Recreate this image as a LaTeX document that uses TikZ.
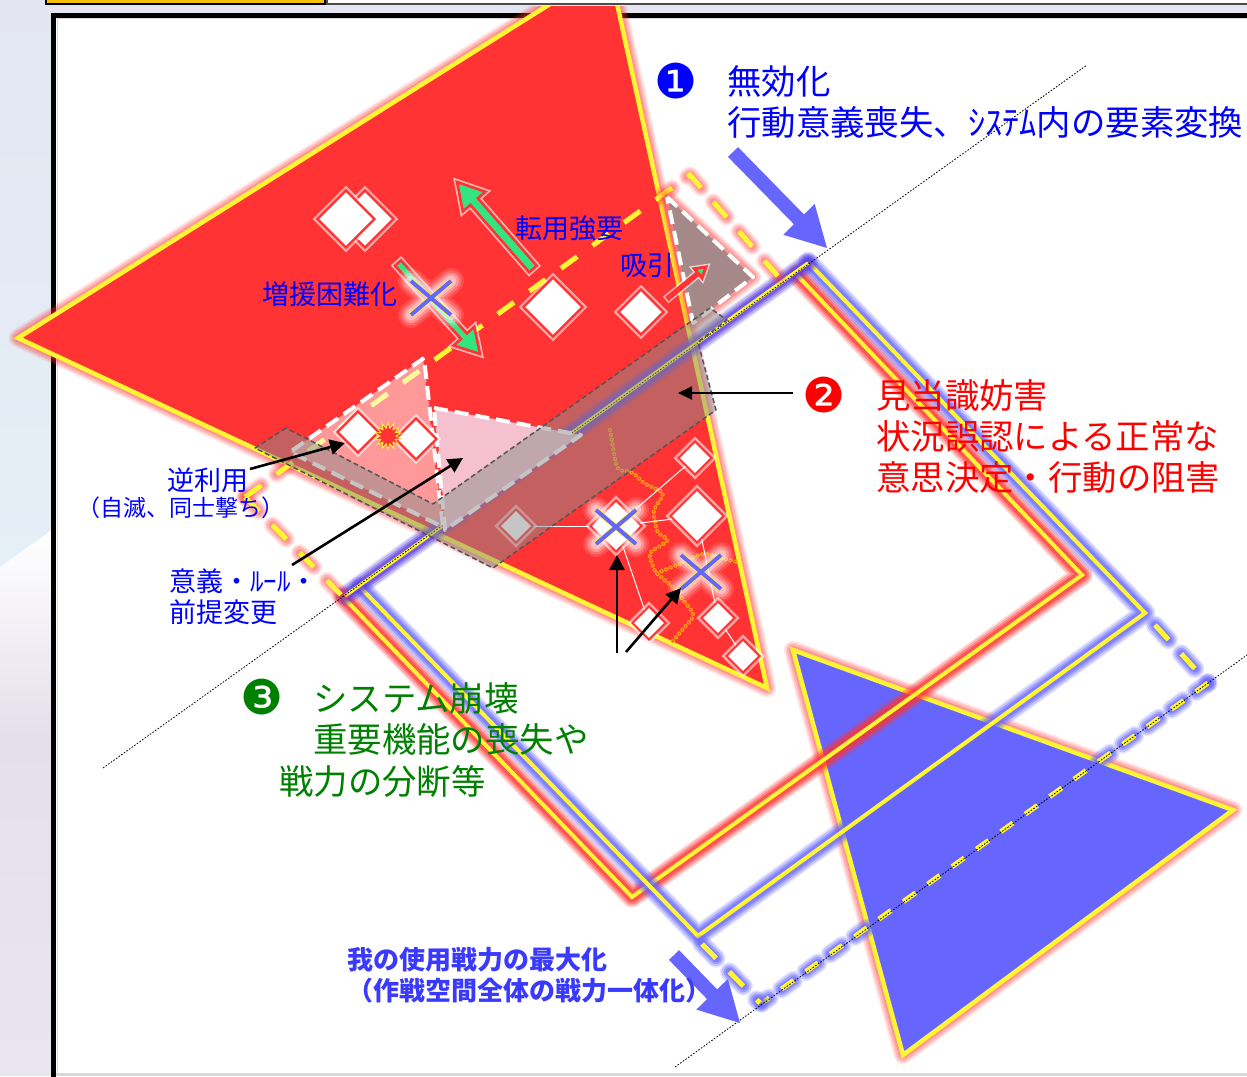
\documentclass[tikz,border=0pt]{standalone}
\usepackage{fontspec}
\setmainfont{Noto Sans CJK JP}
\newfontfamily\dvfont{DejaVu Sans}
\usetikzlibrary{shapes.geometric,arrows.meta,calc}
\definecolor{bgblue}{HTML}{E3E6F1}
\definecolor{bgcyan}{HTML}{E5EFF6}
\definecolor{bglil}{HTML}{E5DFEC}
\definecolor{bglil2}{HTML}{E9E5F0}
\definecolor{gold}{HTML}{F5C000}
\definecolor{redfill}{HTML}{FF3333}
\definecolor{blufill}{HTML}{6666FF}
\definecolor{purp}{HTML}{5A3CE0}
\definecolor{yel}{HTML}{FFF533}
\definecolor{grn}{HTML}{33E580}
\definecolor{zonegray}{HTML}{8D8D8D}
\definecolor{zoneline}{HTML}{555555}
\definecolor{orangechain}{HTML}{FFA410}
\definecolor{labblue}{HTML}{0000FF}
\definecolor{boldblue}{HTML}{3A3AFF}
\definecolor{labgreen}{HTML}{008000}
\definecolor{pinkfill}{HTML}{F5C0CF}
\definecolor{mauve}{HTML}{A58888}
\newcommand{\glowsoft}[3]{%
  \foreach \gw/\gop in {14/.10,11/.14,8/.18,4/.24}{%
    \draw[#1,line width=#2pt+\gw pt,opacity=\gop,line join=round,line cap=round] #3;}}
\newcommand{\glowhard}[3]{%
  \foreach \gw/\gop in {18/.16,15/.26,11/.4,7/.55}{%
    \draw[#1,line width=#2pt+\gw pt,opacity=\gop,line join=round,line cap=round] #3;}}
\newcommand{\fatarrow}[8]{% style, x1,y1,x2,y2, half shaft, half head, head length
  \pgfmathsetmacro{\fa}{atan2(#3-#5,#4-#2)}%
  \pgfmathsetmacro{\fl}{veclen(#4-#2,#5-#3)}%
  \begin{scope}[shift={(#2,#3)},rotate=\fa]
    \path[#1] (0,-#6) -- (\fl-#8,-#6) -- (\fl-#8,-#7) -- (\fl,0) -- (\fl-#8,#7) -- (\fl-#8,#6) -- (0,#6) -- cycle;
  \end{scope}}
\newcommand{\crossmark}[2]{%
  \begin{scope}[shift={(#1,#2)}]
    \foreach \w/\o in {26/.12,21/.18,16/.28,11/.4}{\draw[white,opacity=\o,line width=\w pt,line cap=round] (-20,-17) -- (20,17) (-20,17) -- (20,-17);}
    \draw[yel,line width=5.4pt] (-20,-17) -- (20,17) (-20,17) -- (20,-17);
    \draw[blufill,line width=4pt] (-20,-17) -- (20,17) (-20,17) -- (20,-17);
  \end{scope}}
\tikzset{
  x=1pt,y=-1pt,
  edgeline/.style={yel,line width=4.5pt,line join=miter},
  dashyel/.style={yel,line width=5pt,dash pattern=on 20pt off 19pt},
  dashyelb/.style={yel,line width=5pt,dash pattern=on 15pt off 15pt},
  dotline/.style={black,line width=.8pt,dash pattern=on 1.6pt off 1.6pt},
  whitedash/.style={white,line width=4pt,dash pattern=on 14pt off 7pt,line join=round},
  gem/.style={diamond,aspect=1,inner sep=0pt,draw=redfill,line width=2.4pt,fill=white,
    preaction={draw=white,line width=7pt,opacity=.55}},
  gemthin/.style={gem,line width=2pt},
  wire/.style={white,line width=1pt},
  chain/.style={orangechain,line width=4.2pt,dash pattern=on .1pt off 4.8pt,line cap=round,line join=round,rounded corners=5pt},
  chaincore/.style={chain,redfill,line width=1.7pt},
  blk/.style={black,line width=2.6pt,-{Triangle[length=15pt,width=15pt]}},
  blkthin/.style={black,line width=2pt,-{Triangle[length=14pt,width=13pt]}},
  bigtxt/.style={anchor=west,align=left,inner sep=0pt,font=\fontsize{34.4}{41}\selectfont},
  midtxt/.style={anchor=west,align=left,inner sep=0pt,text=labblue,font=\fontsize{27}{31}\selectfont},
  smalltxt/.style={anchor=center,inner sep=0pt,text=labblue,font=\fontsize{23}{27}\selectfont},
  boldtxt/.style={anchor=west,inner sep=0pt,text=boldblue,font=\fontsize{26}{31}\selectfont\bfseries},
  numtxt/.style={anchor=center,inner sep=0pt,font=\dvfont\fontsize{48}{48}\selectfont},
  zone/.style={fill=zonegray,fill opacity=.5,draw=zoneline,line width=1.5pt,dash pattern=on 5pt off 3pt,line join=round},
  greenarrow/.style={fill=grn,draw=redfill,line width=2.6pt,line join=miter,
    preaction={draw=white,line width=6pt,opacity=.65}},
  blueflat/.style={fill=blufill},
}
\begin{document}
\begin{tikzpicture}
\useasboundingbox (0,0) rectangle (1247,1076);
\clip (0,0) rectangle (1247,1076);
% page background
\fill[bgblue] (0,0) rectangle (1247,20);
\begin{scope}
  \clip (0,0) -- (52,0) -- (52,530) -- (0,567) -- cycle;
  \shade[top color=bgblue,bottom color=bgcyan] (0,0) rectangle (52,567);
\end{scope}
\begin{scope}
  \clip (0,567) -- (52,530) -- (52,1076) -- (0,1076) -- cycle;
  \shade[top color=white,bottom color=bglil] (0,530) rectangle (52,735);
  \shade[top color=bglil,bottom color=bglil2] (0,735) rectangle (52,1076);
\end{scope}
% frame
\fill[white] (53,16) rectangle (1260,1090);
\draw[black!15,line width=1pt] (57.5,1076) -- (57.5,18.5) -- (1247,18.5);
\draw[black,line width=4.5pt] (53.5,15.5) rectangle (1270,1090);
\fill[black!15] (56,1073) rectangle (1247,1076);
% red triangle
\glowsoft{redfill}{4.5}{(18,338) -- (609,-33) -- (767,688) -- cycle}
\fill[redfill] (18,338) -- (609,-33) -- (767,688) -- cycle;
\draw[edgeline] (18,338) -- (609,-33) -- (767,688) -- cycle;
% blue triangle
\glowsoft{redfill}{4.5}{(793,650) -- (1233,810) -- (903,1055) -- cycle}
\fill[blufill] (793,650) -- (1233,810) -- (903,1055) -- cycle;
\draw[edgeline] (793,650) -- (1233,810) -- (903,1055) -- cycle;
% red rectangle
\glowhard{redfill}{3.5}{(797,275) -- (1082,575) -- (632,897) -- (343,597)}
\draw[edgeline,line width=4pt] (797,275) -- (1082,575) -- (632,897) -- (343,597);
% blue rectangle
\glowhard{blufill}{3}{(808,262) -- (1145,613) -- (698,936) -- (360,587)}
\draw[edgeline,line width=4pt] (808,262) -- (1145,613) -- (698,936) -- (360,587);
% common upper edge
\glowhard{purp}{2.5}{(345,596) -- (808,263)}
\draw[edgeline,line width=3.5pt] (345,596) -- (808,263);
% dashed continuation (blue glow)
\glowhard{blufill}{1}{[dash pattern=on 20pt off 19pt] (1155,625) -- (1208,683)}
\draw[dashyel] (1155,625) -- (1208,683);
\glowhard{blufill}{1}{[dash pattern=on 15pt off 15pt] (1208,683) -- (762,1003)}
\draw[dashyelb] (1208,683) -- (762,1003);
\glowhard{blufill}{1}{[dash pattern=on 20pt off 19pt] (702,944) -- (760,1003)}
\draw[dashyel] (702,944) -- (760,1003);
% dashed rectangle (red glow)
\glowsoft{redfill}{3.5}{[dash pattern=on 20pt off 19pt] (245,497) -- (690,175) -- (783,282)}
\glowsoft{redfill}{3.5}{[dash pattern=on 20pt off 19pt] (245,497) -- (343,597)}
\draw[dashyel] (245,497) -- (690,175) -- (783,282);
\draw[dashyel] (245,497) -- (343,597);
% dotted guide lines
\coordinate (g1a) at (103,768);
\coordinate (g1b) at (1087,65);
\coordinate (g2a) at (675,1067);
\coordinate (g2b) at (1247,655);
\draw[dotline] (g1a) -- (g1b);
\draw[dotline] (g2a) -- (g2b);
% dashed triangles
\fill[white,opacity=.5] (424,358) -- (290,452) -- (443,527) -- cycle;
\draw[redfill,line width=2pt,dash pattern=on 7pt off 5pt] (424,358) -- (443,527);
\draw[whitedash] (424,358) -- (290,452) -- (443,527) -- cycle;
\fill[pinkfill] (434,408) -- (581,435) -- (445,530) -- cycle;
\draw[redfill,line width=2pt,dash pattern=on 7pt off 5pt] (434,408) -- (445,530);
\draw[whitedash] (434,408) -- (581,435) -- (445,530) -- cycle;
\glowsoft{redfill}{3}{(667,197) -- (753,277) -- (693,323) -- cycle}
\fill[mauve] (667,197) -- (753,277) -- (693,323) -- cycle;
\draw[whitedash] (667,197) -- (753,277) -- (693,323) -- cycle;
% upper diamonds
\node[gem,minimum size=58pt] (dBack) at (365,219) {};
\node[gem,minimum size=58pt] (dFront) at (346,219) {};
\node[gem,minimum size=60pt] (dMid) at (553,307) {};
\node[gem,minimum size=46pt] (dRight) at (641,312) {};
\node[gem,minimum size=42pt] (dL1) at (358,432) {};
\node[gem,minimum size=42pt] (dL2) at (416,439) {};
\node[star,star points=14,star point ratio=1.7,minimum size=27pt,inner sep=0pt,fill=redfill,draw=yel,line width=.8pt] (burst) at (388,436) {};
% green arrows
\fatarrow{greenarrow}{533}{269}{457}{182}{5}{15}{26}
\fatarrow{greenarrow}{398}{263}{480}{354}{4}{14}{24}
\fatarrow{greenarrow,line width=3pt}{668}{298}{706}{267}{1.2}{6}{10}
\crossmark{431}{298}
% chains, ghost and lower diamonds
\draw[chain] (610,430) -- (617,470) -- (633,472) -- (643,483) -- (665,493) -- (653,510) -- (657,533) -- (670,540) -- (648,553) -- (655,572) -- (673,587) -- (695,615) -- (672,642);
\draw[chain] (657,573) -- (677,565) -- (703,553) -- (737,562);
\draw[chaincore] (610,430) -- (617,470) -- (633,472) -- (643,483) -- (665,493) -- (653,510) -- (657,533) -- (670,540) -- (648,553) -- (655,572) -- (673,587) -- (695,615) -- (672,642);
\draw[chaincore] (657,573) -- (677,565) -- (703,553) -- (737,562);
\node[gemthin,minimum size=34pt] (dG) at (516,526) {};
\node[gemthin,minimum size=52pt] (d1) at (616,526) {};
\node[gemthin,minimum size=34pt] (d2) at (695,458) {};
\node[gemthin,minimum size=54pt] (d3) at (697,516) {};
\node[gemthin,minimum size=34pt] (d4) at (649,623) {};
\node[gemthin,minimum size=34pt] (d5) at (718,618) {};
\node[gemthin,minimum size=34pt] (d6) at (743,656) {};
\draw[wire] (dG) -- (d1);
\draw[wire] (d1) -- (d2);
\draw[wire] (d1) -- (d3);
\draw[wire] (d1) -- (d4);
\draw[wire] (d3) -- (d5);
\draw[wire] (d5) -- (d6);
\crossmark{616}{527}
\crossmark{701}{572}
% gray zone
\path[zone] (286,428) -- (255,448) -- (493,568) -- (716,410) -- (698,342) -- (727,320) -- (710,308) -- (433,504) -- cycle;
% big blue arrows
\fatarrow{blueflat}{733}{152}{827}{248}{7}{22}{40}
\fatarrow{blueflat}{674}{955}{740}{1023}{7}{22}{40}
% labels
\node[numtxt,text=labblue] at (676,81) {❶};
\node[bigtxt,text=labblue] at (727,102) {無効化\\行動意義喪失、ｼｽﾃﾑ内の要素変換};
\node[numtxt,text=red] at (824,395) {❷};
\node[bigtxt,text=red] at (876,437) {見当識妨害\\状況誤認による正常な\\意思決定・行動の阻害};
\node[numtxt,text=labgreen] at (262,697) {❸};
\node[bigtxt,text=labgreen] at (313,719) {システム崩壊\\重要機能の喪失や};
\node[bigtxt,text=labgreen] at (279,781) {戦力の分断等};
\node[midtxt] (lZoen) at (262,294) {増援困難化};
\node[midtxt] (lTenyo) at (515,228) {転用強要};
\node[midtxt] (lKyuin) at (620,265) {吸引};
\node[midtxt] (lGyaku) at (167,480) {逆利用};
\node[smalltxt] (lJimetsu) at (181,508) {（自滅、同士撃ち）};
\node[midtxt] (lIgi) at (169,597) {意義・ﾙｰﾙ・\\前提変更};
\node[boldtxt] (lWare) at (347,960) {我の使用戦力の最大化};
\node[boldtxt] (lSakusen) at (347,991) {（作戦空間全体の戦力一体化）};
% black arrows
\coordinate (a1s) at (793,393); \coordinate (a1e) at (678,393);
\coordinate (a2s) at (250,469); \coordinate (a2e) at (345,443);
\coordinate (a3s) at (292,565); \coordinate (a3e) at (463,458);
\coordinate (a4s) at (617,653); \coordinate (a4e) at (617,555);
\coordinate (a5s) at (626,652); \coordinate (a5e) at (681,588);
\draw[blkthin] (a1s) -- (a1e);
\draw[blk] (a2s) -- (a2e);
\draw[blk] (a3s) -- (a3e);
\draw[blk] (a4s) -- (a4e);
\draw[blk] (a5s) -- (a5e);
% header bars
\fill[bgblue] (326,0) rectangle (1247,6);
\fill[white] (328,0) rectangle (1247,3);
\draw[black!70,line width=1.2pt] (327,0) -- (327,4) -- (1247,4);
\fill[gold] (46,0) rectangle (325,3);
\draw[black,line width=2pt] (46,0) -- (46,4) -- (325,4) -- (325,0);
\end{tikzpicture}
\end{document}
